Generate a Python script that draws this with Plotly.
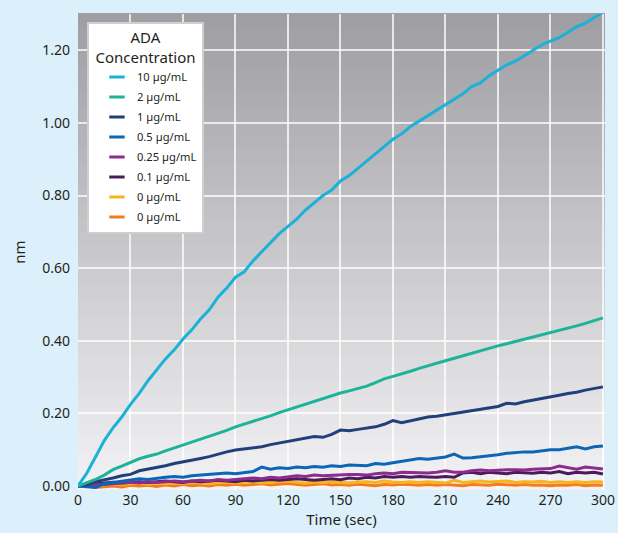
import plotly.graph_objects as go

# ---------------- data ----------------
time_s = list(range(0, 301, 5))

labels = ["10 µg/mL", "2 µg/mL", "1 µg/mL", "0.5 µg/mL", "0.25 µg/mL",
          "0.1 µg/mL", "0 µg/mL", "0 µg/mL"]
colors = ["#1bb1d9", "#1db39b", "#203f7b", "#0b66b7", "#8e2b8e",
          "#4b1c5c", "#f8b41c", "#f07d22"]

ada_10 = [0, 0.035, 0.08, 0.125, 0.16, 0.19, 0.225, 0.255, 0.29, 0.32, 0.35,
          0.375, 0.405, 0.43, 0.46, 0.485, 0.52, 0.545, 0.575, 0.59, 0.62,
          0.645, 0.67, 0.695, 0.715, 0.735, 0.76, 0.78, 0.80, 0.815, 0.84,
          0.855, 0.875, 0.895, 0.915, 0.935, 0.955, 0.97, 0.99, 1.005, 1.02,
          1.035, 1.05, 1.065, 1.08, 1.10, 1.11, 1.13, 1.145, 1.16, 1.17,
          1.185, 1.20, 1.215, 1.225, 1.235, 1.25, 1.265, 1.275, 1.29, 1.305]
ada_2 = [0, 0.008, 0.018, 0.03, 0.045, 0.055, 0.065, 0.075, 0.082, 0.088,
         0.097, 0.105, 0.114, 0.12, 0.128, 0.137, 0.145, 0.153, 0.163, 0.17,
         0.178, 0.186, 0.193, 0.202, 0.21, 0.218, 0.226, 0.233, 0.241, 0.248,
         0.256, 0.262, 0.268, 0.275, 0.285, 0.295, 0.302, 0.308, 0.316, 0.324,
         0.332, 0.338, 0.345, 0.352, 0.36, 0.367, 0.374, 0.38, 0.386, 0.392,
         0.398, 0.404, 0.41, 0.416, 0.421, 0.427, 0.433, 0.441, 0.448, 0.456,
         0.463]
ada_1 = [0, 0.004, 0.012, 0.016, 0.022, 0.028, 0.032, 0.042, 0.046, 0.05,
         0.056, 0.062, 0.066, 0.072, 0.076, 0.081, 0.088, 0.094, 0.099, 0.102,
         0.105, 0.108, 0.114, 0.118, 0.122, 0.128, 0.131, 0.136, 0.134, 0.142,
         0.154, 0.152, 0.156, 0.16, 0.163, 0.17, 0.18, 0.174, 0.18, 0.186,
         0.19, 0.192, 0.196, 0.20, 0.205, 0.208, 0.212, 0.216, 0.219, 0.228,
         0.226, 0.232, 0.236, 0.24, 0.246, 0.25, 0.255, 0.258, 0.264, 0.268,
         0.273]
ada_05 = [0, -0.003, -0.004, 0.006, 0.01, 0.012, 0.016, 0.02, 0.018, 0.022,
          0.024, 0.026, 0.024, 0.028, 0.03, 0.03, 0.032, 0.036, 0.034, 0.036,
          0.04, 0.052, 0.046, 0.05, 0.048, 0.052, 0.05, 0.054, 0.052, 0.056,
          0.054, 0.058, 0.056, 0.056, 0.062, 0.06, 0.064, 0.068, 0.072, 0.076,
          0.074, 0.078, 0.08, 0.088, 0.077, 0.078, 0.08, 0.082, 0.086, 0.09,
          0.093, 0.094, 0.094, 0.098, 0.10, 0.10, 0.104, 0.108, 0.102, 0.108,
          0.11]
ada_025 = [0, 0.002, 0.005, 0.004, 0.006, 0.008, 0.01, 0.008, 0.012, 0.01,
           0.012, 0.014, 0.012, 0.014, 0.016, 0.014, 0.018, 0.016, 0.018, 0.02,
           0.022, 0.02, 0.024, 0.022, 0.026, 0.028, 0.026, 0.03, 0.028, 0.03,
           0.03, 0.032, 0.032, 0.03, 0.034, 0.036, 0.034, 0.038, 0.037, 0.036,
           0.036, 0.038, 0.042, 0.038, 0.038, 0.042, 0.044, 0.042, 0.044, 0.045,
           0.045, 0.044, 0.046, 0.046, 0.048, 0.055, 0.05, 0.046, 0.052, 0.05,
           0.047]
ada_01 = [0, 0.004, 0.006, 0.008, 0.01, 0.008, 0.01, 0.012, 0.01, 0.012,
          0.014, 0.012, 0.01, 0.014, 0.012, 0.014, 0.016, 0.014, 0.012, 0.016,
          0.014, 0.016, 0.018, 0.016, 0.018, 0.02, 0.018, 0.016, 0.018, 0.02,
          0.017, 0.022, 0.02, 0.024, 0.022, 0.026, 0.024, 0.026, 0.024, 0.026,
          0.025, 0.024, 0.026, 0.024, 0.036, 0.038, 0.034, 0.038, 0.036, 0.034,
          0.038, 0.036, 0.035, 0.038, 0.036, 0.04, 0.034, 0.038, 0.036, 0.038,
          0.033]
ada_0a = [0, 0.002, -0.002, 0.004, 0.006, 0.004, 0.006, 0.008, 0.005, 0.008,
          0.006, 0.009, 0.007, 0.01, 0.008, 0.006, 0.009, 0.01, 0.008, 0.01,
          0.012, 0.009, 0.011, 0.012, 0.014, 0.01, 0.008, 0.012, 0.01, 0.012,
          0.01, 0.008, 0.011, 0.012, 0.01, 0.014, 0.011, 0.01, 0.012, 0.01,
          0.012, 0.01, 0.008, 0.016, 0.01, 0.012, 0.014, 0.011, 0.012, 0.014,
          0.01, 0.012, 0.011, 0.013, 0.01, 0.012, 0.01, 0.012, 0.01, 0.012,
          0.011]
ada_0b = [0, 0.0, -0.004, -0.002, 0.0, -0.003, 0.002, 0.0, 0.002, -0.001,
          0.003, 0.0, 0.004, 0.001, 0.003, 0.0, 0.004, 0.002, 0.005, 0.002,
          0.004, 0.006, 0.003, 0.005, 0.007, 0.004, 0.002, 0.004, 0.006, 0.003,
          0.004, 0.002, 0.005, 0.003, 0.001, 0.004, 0.003, 0.005, 0.003, 0.002,
          0.004, 0.002, 0.004, 0.003, 0.001, 0.004, 0.003, 0.002, 0.005, 0.003,
          0.002, 0.004, 0.002, 0.003, 0.001, 0.003, 0.002, 0.004, 0.001, 0.003,
          0.002]

series = [ada_10, ada_2, ada_1, ada_05, ada_025, ada_01, ada_0a, ada_0b]

x_ticks = [0, 30, 60, 90, 120, 150, 180, 210, 240, 270, 300]
y_ticks = [0, 0.2, 0.4, 0.6, 0.8, 1.0, 1.2]

FONT = "Noto Sans"

fig = go.Figure()

# data lines (drawn from lowest to highest so the big curves sit on top)
for i in reversed(range(len(series))):
    fig.add_trace(go.Scatter(
        x=time_s, y=series[i], mode="lines",
        line=dict(color=colors[i], width=3),
        legendgroup=f"g{i}", showlegend=False, hoverinfo="x+y",
        name=labels[i]))

# legend entries with short dash symbols
for i in range(len(series)):
    fig.add_trace(go.Scatter(
        x=[None], y=[None], mode="markers",
        marker=dict(symbol="line-ew", size=11,
                    line=dict(color=colors[i], width=3)),
        legendgroup=f"g{i}", name=labels[i], showlegend=True))

# vertical gradient background of the plot area
top_c = (158, 157, 162)
bot_c = (243, 243, 245)
n = 60
shapes = []
for k in range(n):
    f = (k + 0.5) / n
    c = tuple(round(bot_c[j] + (top_c[j] - bot_c[j]) * f) for j in range(3))
    shapes.append(dict(
        type="rect", xref="x domain", yref="y domain",
        x0=0, x1=1, y0=k / n, y1=(k + 1) / n + 0.002,
        fillcolor=f"rgb{c}", line=dict(width=0), layer="below"))

fig.update_layout(
    width=618, height=533, autosize=False,
    margin=dict(l=78, r=13, t=14, b=43),
    paper_bgcolor="#dcf0fb",
    plot_bgcolor="rgba(0,0,0,0)",
    shapes=shapes,
    font=dict(family=FONT, size=14, color="#231f20"),
    showlegend=True,
    legend=dict(
        x=0.017, y=0.984, xanchor="left", yanchor="top",
        bgcolor="white", bordercolor="#cfcfd2", borderwidth=2,
        indentation=8,
        font=dict(family=FONT, size=11.2, color="#231f20"),
        title=dict(text="         ADA<br>Concentration", side="top center",
                   font=dict(family=FONT, size=15, color="#231f20")),
        traceorder="grouped", tracegroupgap=1, itemsizing="trace"),
    xaxis=dict(
        range=[0, 301.2], tickvals=x_ticks, ticktext=[str(v) for v in x_ticks],
        showgrid=True, gridcolor="rgba(255,255,255,0.75)", gridwidth=1.5,
        zeroline=False, showline=False, ticks="", automargin=False,
        tickfont=dict(size=14),
        title=dict(text="Time (sec)", font=dict(size=15), standoff=6)),
    yaxis=dict(
        range=[-0.011, 1.30], tickvals=y_ticks, tickformat=".2f",
        showgrid=True, gridcolor="rgba(255,255,255,0.75)", gridwidth=1.5,
        zeroline=False, showline=False, ticks="", automargin=False,
        ticklabelstandoff=7, tickfont=dict(size=14),
        title=dict(text="nm", font=dict(size=15), standoff=12)),
)

fig.write_html("out.html",
               config={"responsive": False, "displayModeBar": False},
               post_script="document.body.style.margin='0';"
                           "document.body.style.overflow='hidden';")
